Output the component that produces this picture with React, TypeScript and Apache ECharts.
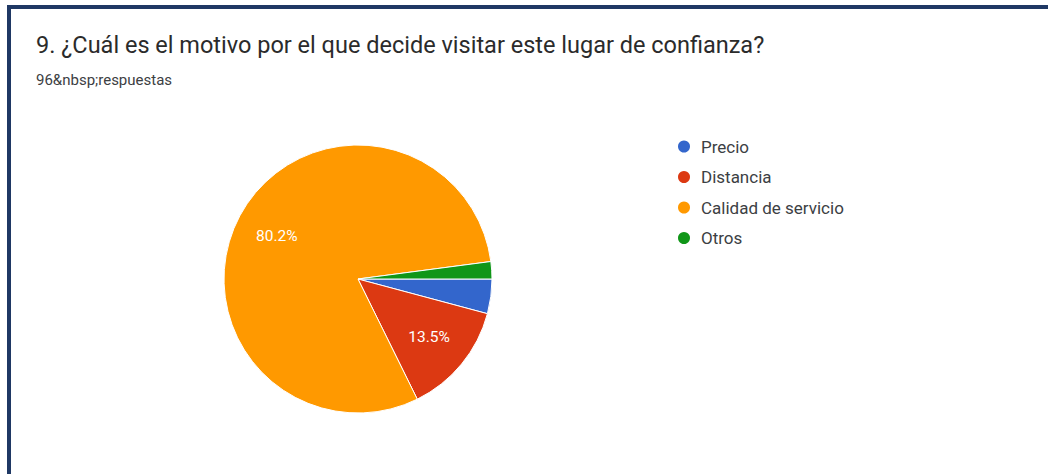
import React, { useEffect, useRef } from "react";
import * as echarts from "echarts";

const titleText = "9. ¿Cuál es el motivo por el que decide visitar este lugar de confianza?";
const subtitleText = "96&nbsp;respuestas";
const categories = ["Precio", "Distancia", "Calidad de servicio", "Otros"];
const counts = [4, 13, 77, 2];
const colors = ["#3366cc", "#dc3912", "#ff9900", "#109618"];
const showLabel = [false, true, true, false];

export default function App() {
  const ref = useRef<HTMLDivElement>(null);
  useEffect(() => {
    if (!ref.current) return;
    const chart = echarts.init(ref.current, null, { renderer: "svg" });
    const data = categories.map((name, i) => ({
      name,
      value: counts[i],
      itemStyle: { color: colors[i] },
    }));
    const labelData = categories.map((name, i) => ({
      name,
      value: counts[i],
      label: { show: showLabel[i] },
    }));
    chart.setOption({
      animation: false,
      backgroundColor: "#ffffff",
      textStyle: { fontFamily: "Roboto" },
      title: [
        {
          text: titleText,
          left: 31,
          top: 28,
          textStyle: { fontFamily: "Roboto", fontSize: 23.5, fontWeight: "normal", color: "#2b2b2b" },
        },
        {
          text: subtitleText,
          left: 31,
          top: 67,
          textStyle: { fontFamily: "Roboto", fontSize: 15, fontWeight: "normal", color: "#3c4043" },
        },
      ],
      legend: {
        orient: "vertical",
        left: 671,
        top: 133,
        icon: "circle",
        itemWidth: 14,
        itemHeight: 14,
        itemGap: 13.5,
        data: categories,
        textStyle: { fontFamily: "Roboto", fontSize: 17, color: "#3c4043", padding: [0, 0, 0, 5] },
      },
      series: [
        {
          type: "pie",
          center: [358, 279],
          radius: [0, 134],
          startAngle: 0,
          clockwise: true,
          percentPrecision: 1,
          label: { show: false },
          labelLine: { show: false },
          itemStyle: { borderColor: "#ffffff", borderWidth: 1 },
          emphasis: { disabled: true },
          data,
        },
        {
          type: "pie",
          center: [358, 279],
          radius: [42, 136],
          startAngle: 0,
          clockwise: true,
          percentPrecision: 1,
          silent: true,
          legendHoverLink: false,
          itemStyle: { color: "rgba(0,0,0,0)", borderWidth: 0 },
          label: {
            show: true,
            position: "inside",
            formatter: "{d}%",
            color: "#ffffff",
            fontFamily: "Roboto",
            fontSize: 15.5,
          },
          labelLine: { show: false },
          emphasis: { disabled: true },
          data: labelData,
        },
      ],
      graphic: [
        { type: "rect", shape: { x: 7, y: 5, width: 1041, height: 4 }, style: { fill: "#1f3864" } },
        { type: "rect", shape: { x: 7, y: 5, width: 4, height: 469 }, style: { fill: "#1f3864" } },
      ],
    });
    return () => chart.dispose();
  }, []);
  return (
    <div
      ref={ref}
      style={{ position: "fixed", left: 0, top: 0, width: 1048, height: 474 }}
    />
  );
}
